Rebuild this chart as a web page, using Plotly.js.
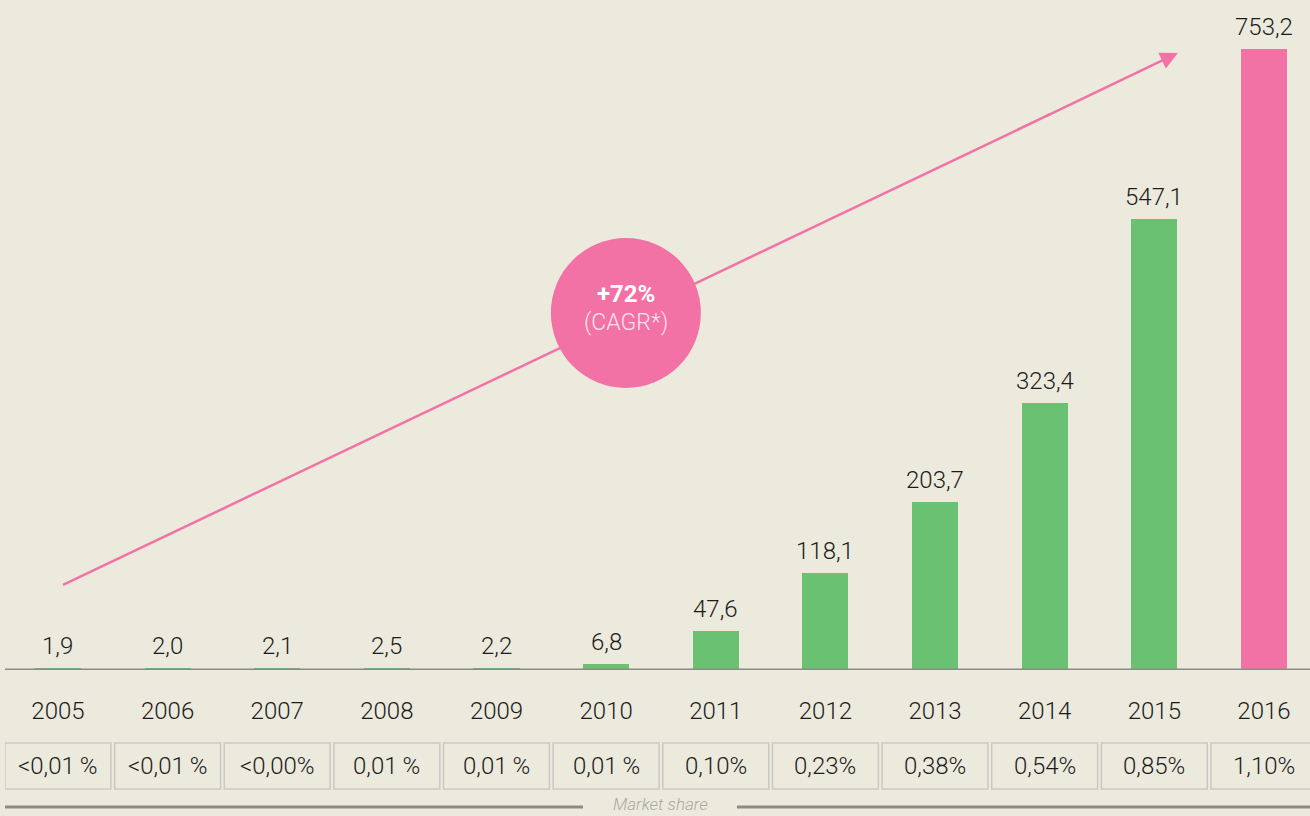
<!DOCTYPE html>
<html>
<head>
<meta charset="utf-8">
<script src="https://cdn.plot.ly/plotly-3.0.1.min.js"></script>
<style>
html,body{margin:0;padding:0;background:#ECEADD;}
#chart{width:1310px;height:816px;}
</style>
</head>
<body>
<div id="chart"></div>
<script>
// Data
var years = ['2005','2006','2007','2008','2009','2010','2011','2012','2013','2014','2015','2016'];
var values = [1.9, 2.0, 2.1, 2.5, 2.2, 6.8, 47.6, 118.1, 203.7, 323.4, 547.1, 753.2];
var marketShare = ['<0,01\u2009%','<0,01\u2009%','<0,00%','0,01\u2009%','0,01\u2009%','0,01\u2009%','0,10%','0,23%','0,38%','0,54%','0,85%','1,10%'];
var cagrLabel = '+72%';
var cagrSub = '(CAGR*)';
var shareTitle = 'Market share';

var GREEN = '#6BC172';
var PINK = '#F272A5';
var GREY = '#8C8C87';
var TXT = '#1C1C1C';
var FONT = 'Roboto, "Liberation Sans", Arial, sans-serif';

var idx = years.map(function(_, i){ return i; });
var colors = values.map(function(_, i){ return i === values.length - 1 ? PINK : GREEN; });
function fmt(v){ return v.toFixed(1).replace('.', ','); }

var trace = {
  type: 'bar',
  x: idx,
  y: values,
  width: 0.42,
  marker: {color: colors, line: {width: 0}},
  hoverinfo: 'skip'
};

var shapes = [];
var annotations = [];

// baseline
shapes.push({type:'line', xref:'paper', yref:'y', x0:0, x1:1, y0:0, y1:0, line:{color:GREY, width:3}, layer:'above'});

// trend line (behind circle)
shapes.push({type:'line', xref:'x', yref:'y', x0:0.046, y0:103.1, x1:9.05, y1:674.1, line:{color:PINK, width:2.5}, layer:'above'});
// circle
shapes.push({type:'circle', xref:'x', yref:'y', xsizemode:'pixel', ysizemode:'pixel',
  xanchor:5.18, yanchor:433, x0:-75, x1:75, y0:-75, y1:75,
  fillcolor:PINK, line:{width:0}, layer:'above'});

// arrow head segment
annotations.push({x:10.215, y:748.3, xref:'x', yref:'y', ax:9.0, ay:671.0, axref:'x', ayref:'y',
  text:'', showarrow:true, arrowhead:2, arrowsize:1.4, arrowwidth:2.5, arrowcolor:PINK, standoff:0, startstandoff:0});

// circle labels
annotations.push({x:5.18, y:433, xref:'x', yref:'y', yshift:19, text:'<b>'+cagrLabel+'</b>', showarrow:false,
  font:{family:FONT, size:24, color:'#FFFFFF'}});
annotations.push({x:5.18, y:433, xref:'x', yref:'y', yshift:-10, text:cagrSub, showarrow:false,
  font:{family:FONT, size:23, color:'#FDE3EE', weight:300}});

// value labels and share boxes
values.forEach(function(v, i){
  annotations.push({x:i, y:v, xref:'x', yref:'y', yanchor:'bottom', yshift:6, text:fmt(v), showarrow:false,
    font:{family:FONT, size:24, color:TXT, weight:300}});
  shapes.push({type:'rect', xref:'x', yref:'paper', x0:i-0.483, x1:i+0.483, y0:-0.109, y1:-0.1776,
    line:{color:'#C9C9C3', width:1.5}, fillcolor:'rgba(0,0,0,0)'});
  annotations.push({x:i, y:-0.1433, xref:'x', yref:'paper', yanchor:'middle', text:marketShare[i], showarrow:false,
    font:{family:FONT, size:24, color:TXT, weight:300}});
});

// bottom rule with label
shapes.push({type:'line', xref:'paper', yref:'paper', x0:0, x1:0.4429, y0:-0.2045, y1:-0.2045, line:{color:GREY, width:3}});
shapes.push({type:'line', xref:'paper', yref:'paper', x0:0.5609, x1:1, y0:-0.2045, y1:-0.2045, line:{color:GREY, width:3}});
annotations.push({x:0.502, y:-0.2, xref:'paper', yref:'paper', yanchor:'middle', text:'<i>'+shareTitle+'</i>', showarrow:false,
  font:{family:FONT, size:17, color:'#A9A9A2', weight:300}});

var layout = {
  width:1310, height:816,
  margin:{l:5, r:0, t:0, b:146},
  paper_bgcolor:'#ECEADD', plot_bgcolor:'#ECEADD',
  showlegend:false,
  bargap:0,
  xaxis:{
    range:[-0.483, 11.42], tickmode:'array', tickvals:idx, ticktext:years,
    showgrid:false, zeroline:false, showline:false,
    ticks:'outside', ticklen:19, tickcolor:'rgba(0,0,0,0)',
    tickfont:{family:FONT, size:24, color:TXT, weight:300}, fixedrange:true
  },
  yaxis:{range:[0, 812.6], visible:false, fixedrange:true},
  shapes:shapes,
  annotations:annotations
};

Plotly.newPlot('chart', [trace], layout, {displayModeBar:false, staticPlot:true});
</script>
</body>
</html>
